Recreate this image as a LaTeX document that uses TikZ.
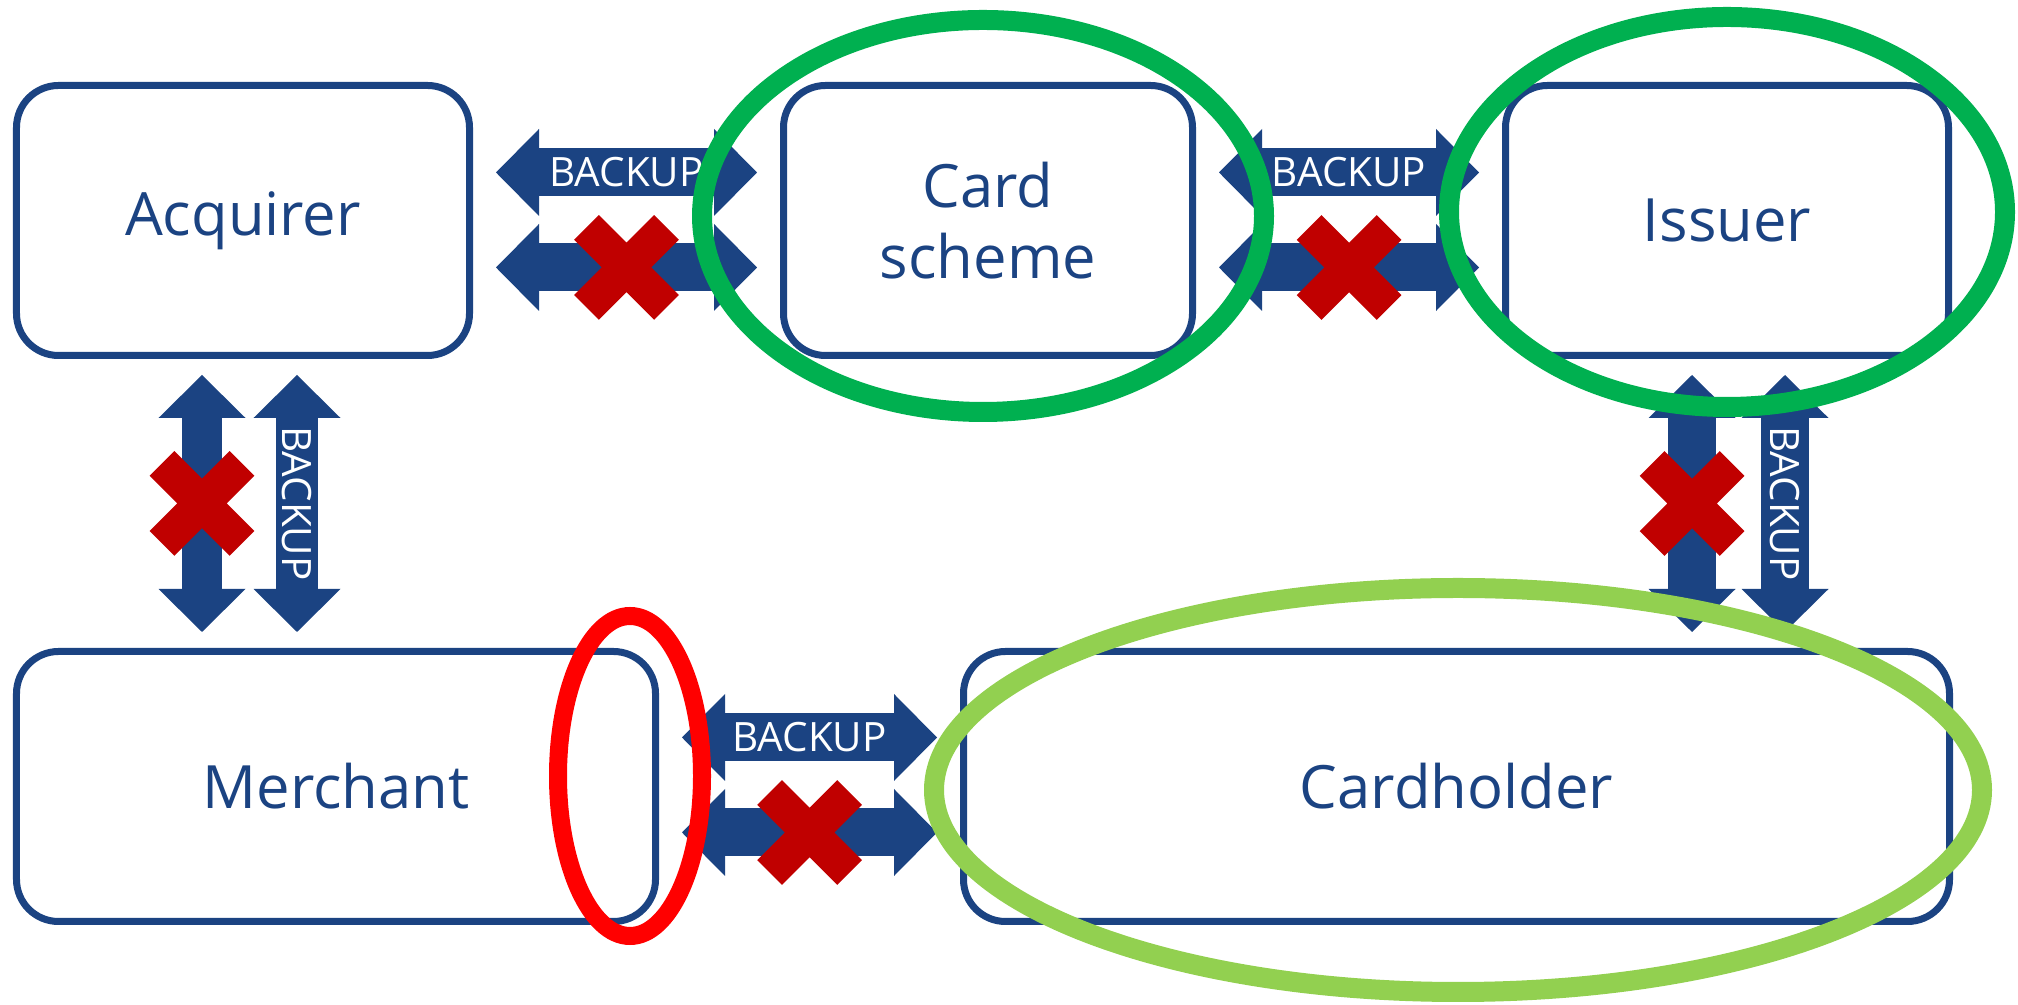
\documentclass[tikz,border=0pt]{standalone}
\usepackage{fontspec}
\setmainfont{Open Sans}
\usepackage{tikz}
\usetikzlibrary{arrows.meta, positioning}

\definecolor{navy}{RGB}{27,67,130}
\definecolor{xred}{RGB}{192,0,0}
\definecolor{ringgreen}{RGB}{0,176,80}
\definecolor{ringlime}{RGB}{146,208,80}
\definecolor{ringred}{RGB}{255,0,0}

\begin{document}
\begin{tikzpicture}
\tikzset{blk/.tip={Triangle[width=0.87cm,length=0.43cm,line width=0pt]}}
\tikzstyle{party} = [rectangle, draw=navy, line width=0.07cm, rounded corners=0.42cm, fill=white, minimum height=2.7cm, text=navy, font=\fontsize{17}{20}\selectfont, align=center]
\tikzstyle{link} = [draw=navy, line width=0.48cm, blk-blk, shorten <=0.23cm, shorten >=0.23cm]
\tikzstyle{vlink} = [link, shorten <=0.16cm, shorten >=0.16cm]
\tikzstyle{backup} = [text=white, font=\fontsize{11.5}{13}\selectfont, inner sep=0pt, sloped]
\tikzstyle{xline} = [draw=xred, line width=0.35cm]
\tikzstyle{ring} = [line width=0.2cm]

\useasboundingbox (0,0) rectangle (20.18,10.05);

% parties
\node (acq) [party, minimum width=4.53cm] at (2.43,7.845) {Acquirer};
\node (cs) [party, minimum width=4.09cm, right=3.07cm of acq] {Card\\scheme};
\node (iss) [party, minimum width=4.43cm, right=3.06cm of cs] {Issuer};
\node (merch) [party, minimum width=6.39cm, below=2.89cm of acq.south west, anchor=north west] {Merchant};
\node (ch) [party, minimum width=9.86cm, right=3.01cm of merch] {Cardholder};

% links, backup above / left, broken one crossed out
\draw[link] ([yshift=0.48cm]acq.east) -- ([yshift=0.48cm]cs.west) node[backup, pos=0.5] (bk1) {BACKUP};
\draw[link] ([yshift=-0.47cm]acq.east) -- ([yshift=-0.47cm]cs.west) coordinate[pos=0.5] (x1);

\draw[link] ([yshift=0.48cm]cs.east) -- ([yshift=0.48cm]iss.west) node[backup, pos=0.5] (bk2) {BACKUP};
\draw[link] ([yshift=-0.47cm]cs.east) -- ([yshift=-0.47cm]iss.west) coordinate[pos=0.5] (x2);

\draw[vlink, line width=0.40cm] ([xshift=-0.41cm]acq.south) -- ([xshift=-0.41cm]acq.south |- merch.north) coordinate[pos=0.5] (x3);
\draw[vlink, line width=0.42cm] ([xshift=0.54cm]acq.south) -- ([xshift=0.54cm]acq.south |- merch.north) node[backup, pos=0.5] (bk3) {BACKUP};

\draw[vlink] ([xshift=-0.35cm]iss.south) -- ([xshift=-0.35cm]iss.south |- ch.north) coordinate[pos=0.5] (x4);
\draw[vlink] ([xshift=0.58cm]iss.south) -- ([xshift=0.58cm]iss.south |- ch.north) node[backup, pos=0.5] (bk4) {BACKUP};

\draw[link] ([yshift=0.49cm]merch.east) -- ([yshift=0.49cm]ch.west) node[backup, pos=0.5] (bk5) {BACKUP};
\draw[link] ([yshift=-0.46cm]merch.east) -- ([yshift=-0.46cm]ch.west) coordinate[pos=0.5] (x5);

% red crosses on the broken links
\foreach \m in {x1,x2,x3,x4,x5}
  \draw[xline] ([shift={(-0.40,-0.40)}]\m) -- ([shift={(0.40,0.40)}]\m)
               ([shift={(-0.40,0.40)}]\m) -- ([shift={(0.40,-0.40)}]\m);

% highlight rings
\draw[ring, ringgreen] (9.83,7.89) ellipse [x radius=2.81cm, y radius=1.96cm];
\draw[ring, ringgreen] (17.27,7.93) ellipse [x radius=2.78cm, y radius=1.95cm];
\draw[ring, ringred, line width=0.18cm] (6.30,2.29) ellipse [x radius=0.72cm, y radius=1.60cm];
\draw[ring, ringlime] (14.58,2.15) ellipse [x radius=5.24cm, y radius=2.02cm];
\end{tikzpicture}
\end{document}
